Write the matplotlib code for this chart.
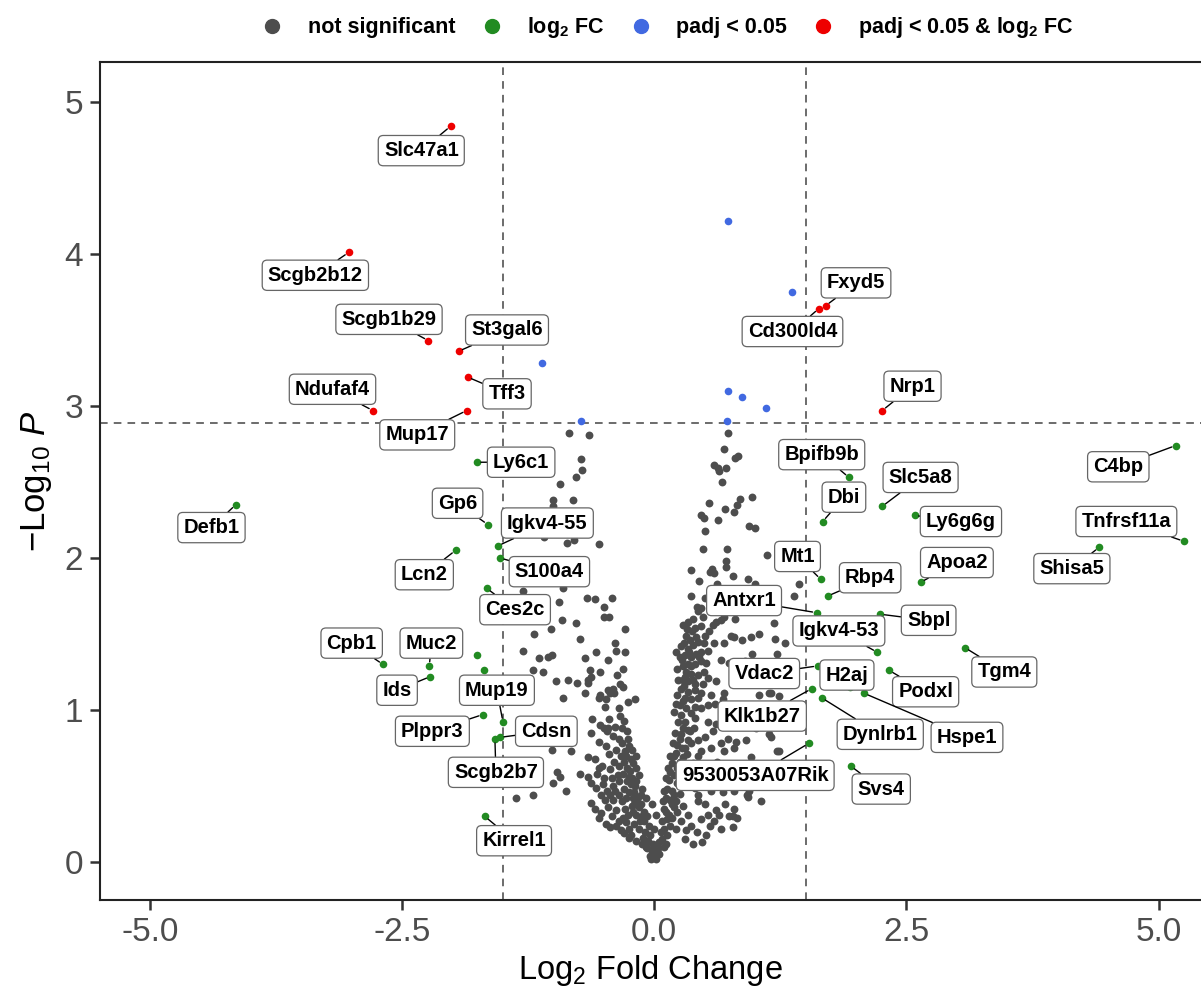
import matplotlib
matplotlib.use("Agg")
import matplotlib.pyplot as plt
from matplotlib.lines import Line2D

plt.rcParams["font.family"] = ["Liberation Sans", "DejaVu Sans"]
plt.rcParams["mathtext.fontset"] = "custom"
plt.rcParams["mathtext.rm"] = "Liberation Sans"
plt.rcParams["mathtext.it"] = "Liberation Sans:italic"
plt.rcParams["mathtext.bf"] = "Liberation Sans:bold"

# -------------------------
# data
# -------------------------

# not significant genes: log2FC, -log10 P
ns_x = [
    # left arm
    -0.85, -0.65, -0.73, -0.72, -0.78, -0.93, -1.00, -1.00, -0.81, -0.87, -0.80, -0.55, -1.09,
    -1.30, -0.90, -0.67, -0.59, -0.42, -0.94, -0.50, -0.50, -0.45, -0.91, -0.78, -1.02, -0.29,
    -1.19, -0.74, -0.39, -1.30, -0.38, -0.29, -0.58, -1.14, -1.05, -1.01, -0.69, -0.46, -0.31,
    -1.20, -1.10, -0.64, -0.54, -0.63, -0.66, -0.66, -0.37, -0.97, -0.86, -0.77, -0.46, -0.41,
    -0.34, -0.31, -0.44, -0.54, -0.55, -0.90, -0.26, -0.19, -0.49, -0.35, -0.45, -0.34, -0.62,
    -0.69, -0.48, -0.40, -0.30, -0.54, -0.46, -0.63,
    -1.01, -0.83, -0.50, -0.47, -0.41, -0.35, -0.26, -0.25, -0.29, -0.23, -0.45, -0.66, -0.59,
    -0.21, -0.18, -0.15, -0.35, -0.44, -0.55, -0.74, -0.66, -0.57, -0.96, -0.93, -1.00, -0.88,
    -1.20, -1.37, -0.63, -0.58, -0.51, -0.47, -0.41, -0.35, -0.30, -0.23, -0.20, -0.16, -0.53,
    -0.49, -0.41, -0.35, -0.63, -0.59, -0.46, -0.38, -0.29, -0.26, -0.21, -0.15, -0.10, -0.48,
    -0.38, -0.33, -0.25, -0.20, -0.15, -0.10, -0.05, -0.25, -0.18, -0.12, -0.07, -0.02, 0.02,
    -0.03, -0.08, 0.00, 0.02, -0.02, -0.08, -0.13, -0.21, -0.20, -0.12, -0.18, -0.25, -0.31,
    -0.32, -0.28, -0.27, -0.24, -0.22, -0.27, -0.19, -0.25, -0.17, -0.22, -0.13, -0.18, -0.12,
    -0.07, -0.14, -0.09, -0.04, -0.11, -0.06, -0.01, -0.04, 0.00, -0.30, -0.33, -0.38, -0.40,
    -0.36, -0.42, -0.39, -0.44, -0.32, -0.28, -0.31, -0.28, -0.23, -0.30, -0.35, -0.42, -0.53,
    -0.55, -0.44, -0.52, -0.50, -0.48, -0.55, -0.39, -0.32, -0.27, -0.22, -0.18,
    # right arm
    0.73, 0.69, 0.80, 0.83, 0.59, 0.63, 0.71, 0.64, 0.67, 0.85, 0.82, 0.79, 0.97, 0.54, 0.70,
    0.46, 0.49, 0.63, 0.50, 0.94, 1.00, 0.48, 0.72, 1.12, 0.71, 0.71, 0.57, 0.36,
    0.55, 0.59, 0.78, 0.93, 1.00, 1.43, 1.39,
    0.42, 0.46, 0.43, 0.48, 0.33, 0.32, 0.40, 0.46, 0.58, 0.61, 0.66, 0.69, 0.76, 0.79, 0.87,
    0.96, 0.69, 0.59, 0.50, 0.54, 1.04, 0.97,
    0.26, 0.33, 0.38, 0.43, 0.30, 0.36, 0.25, 0.41, 0.46, 0.53, 0.33, 0.40, 0.46, 0.51, 0.31,
    0.36, 0.43, 0.28, 0.33, 0.40, 0.26, 0.33, 0.40, 0.46, 0.30, 0.36, 0.43, 0.25, 0.31, 0.20,
    0.26, 0.36, 0.46, 0.53,
    0.61, 0.69, 0.68, 0.66, 0.74,
    1.19, 1.20, 1.22, 1.30, 1.16, 1.04, 1.14, 1.24, 1.14, 1.22,
    0.30, 0.33, 0.26, 0.33, 0.23, 0.30, 0.20, 0.28, 0.18, 0.16, 0.15, 0.13, 0.20, 0.12, 0.18,
    0.10, 0.23, 0.15, 0.08, 0.16, 0.26, 0.07, 0.13, 0.05, 0.10, 0.03, 0.02, 0.36, 0.31, 0.38,
    0.50, 0.53, 0.61, 0.59, 0.51, 0.78, 0.78, 0.79, 0.64, 0.43, 0.43, 0.40, 0.56, 0.68, 0.79,
    0.92, 1.06, 0.94,
    0.43, 0.50, 0.58, 0.66, 0.73, 0.81, 0.91, 0.79, 0.69, 0.56, 0.46, 0.43, 0.96, 1.16, 1.24,
    0.53, 0.61, 0.40, 0.86, 1.01, 0.38, 0.31,
    0.93, 0.82, 0.74,
    0.05, 0.08, 0.12, 0.04, 0.10, 0.13, 0.18, 0.20, 0.12, 0.16, 0.22, 0.09, 0.18, 0.23, 0.10,
    0.20, 0.12, 0.23, 0.14, 0.25, 0.16, 0.22, 0.27, 0.19, 0.25, 0.21, 0.28, 0.24, 0.35, 0.32,
    0.26, 0.30, 0.25, 0.28, 0.33, 0.30, 0.22, 0.46, 0.42, 0.47, 0.55, 0.66, 0.70, 0.48, 0.37,
    0.55, 0.62, 0.36, 0.39,
    0.22, 0.28, 0.23, 0.29, 0.24, 0.30, 0.23, 0.28, 0.36, 0.27, 0.22, 0.29, 0.35, 0.31, 0.37,
    0.28, 0.38, 0.41, 0.49, 0.44, 0.49, 0.40, 0.48, 0.53, 0.56, 0.60, 0.38, 0.34,
    0.36, 0.50, 0.62, 0.44, 0.62,
    0.80, 0.90, 0.84, 0.98, 0.86, 0.95, 1.08, 0.78, 0.88, 1.04, 0.70, 1.10, 0.60, 0.82,
]
ns_y = [
    # left arm
    2.82, 2.81, 2.65, 2.58, 2.53, 2.49, 2.38, 2.34, 2.38, 2.10, 2.12, 2.09, 2.14,
    1.78, 1.80, 1.74, 1.73, 1.74, 1.71, 1.68, 1.61, 1.61, 1.59, 1.57, 1.53, 1.53,
    1.50, 1.47, 1.44, 1.39, 1.39, 1.38, 1.38, 1.34, 1.35, 1.36, 1.34, 1.33, 1.27,
    1.26, 1.25, 1.26, 1.25, 1.22, 1.20, 1.18, 1.23, 1.19, 1.20, 1.18, 1.13, 1.14,
    1.17, 1.15, 1.11, 1.10, 1.08, 1.08, 1.05, 1.07, 1.02, 1.01, 0.94, 0.96, 0.94,
    1.11, 1.07, 1.11, 0.93, 0.90, 0.88, 0.85,
    0.74, 0.73, 0.88, 0.86, 0.83, 0.81, 0.81, 0.76, 0.73, 0.68, 0.71, 0.69, 0.68,
    0.65, 0.62, 0.57, 0.63, 0.61, 0.62, 0.58, 0.56, 0.58, 0.59, 0.56, 0.52, 0.47,
    0.44, 0.42, 0.52, 0.49, 0.51, 0.47, 0.50, 0.53, 0.48, 0.51, 0.46, 0.43, 0.44,
    0.41, 0.41, 0.44, 0.39, 0.35, 0.36, 0.34, 0.35, 0.31, 0.33, 0.36, 0.33, 0.25,
    0.24, 0.21, 0.22, 0.25, 0.22, 0.27, 0.24, 0.16, 0.14, 0.12, 0.09, 0.07, 0.05,
    0.02, 0.10, 0.22, 0.31, 0.38, 0.42, 0.44, 0.42, 0.38, 0.48, 0.53, 0.56, 0.58,
    0.78, 0.70, 0.62, 0.60, 0.55, 0.53, 0.50, 0.46, 0.40, 0.37, 0.38, 0.31, 0.30,
    0.30, 0.27, 0.20, 0.18, 0.16, 0.14, 0.12, 0.04, 0.09, 0.66, 0.70, 0.74, 0.66,
    0.57, 0.55, 0.47, 0.44, 0.40, 0.42, 0.29, 0.26, 0.18, 0.19, 0.27, 0.30, 0.32,
    0.29, 0.23, 0.63, 0.55, 0.76, 0.79, 0.89, 0.88, 0.86, 0.74, 0.70,
    # right arm
    2.82, 2.72, 2.66, 2.67, 2.61, 2.59, 2.59, 2.57, 2.50, 2.39, 2.35, 2.30, 2.40, 2.36, 2.32,
    2.28, 2.26, 2.25, 2.18, 2.21, 2.20, 2.06, 2.06, 2.02, 1.98, 1.94, 1.93, 1.92,
    1.91, 1.90, 1.88, 1.86, 1.83, 1.83, 1.75,
    1.68, 1.67, 1.65, 1.61, 1.58, 1.53, 1.54, 1.55, 1.56, 1.58, 1.59, 1.61, 1.49, 1.48, 1.46,
    1.48, 1.44, 1.44, 1.49, 1.52, 1.50, 1.37,
    1.42, 1.40, 1.43, 1.45, 1.36, 1.35, 1.35, 1.37, 1.38, 1.39, 1.30, 1.30, 1.32, 1.31, 1.25,
    1.24, 1.23, 1.20, 1.19, 1.17, 1.14, 1.12, 1.13, 1.11, 1.08, 1.07, 1.08, 1.03, 1.01, 0.99,
    0.97, 0.98, 1.01, 1.03,
    1.19, 1.11, 1.07, 1.33, 1.31,
    1.57, 1.47, 1.37, 1.44, 1.11, 1.10, 1.11, 1.09, 0.84, 0.73,
    0.92, 0.87, 0.84, 0.80, 0.77, 0.75, 0.70, 0.69, 0.65, 0.59, 0.54, 0.48, 0.44, 0.42, 0.38,
    0.35, 0.33, 0.31, 0.27, 0.24, 0.27, 0.20, 0.18, 0.13, 0.10, 0.07, 0.02, 0.24, 0.21, 0.12,
    0.38, 0.31, 0.34, 0.27, 0.18, 0.30, 0.23, 0.35, 0.31, 0.44, 0.40, 0.49, 0.47, 0.46, 0.47,
    0.44, 0.40, 0.47,
    0.80, 0.82, 0.86, 0.78, 0.81, 0.79, 0.80, 0.75, 0.73, 0.75, 0.73, 0.70, 0.69, 0.82, 0.73,
    0.92, 0.91, 0.95, 0.92, 0.88, 0.65, 0.63,
    0.43, 0.29, 0.30,
    0.05, 0.15, 0.12, 0.09, 0.22, 0.28, 0.29, 0.36, 0.33, 0.41, 0.40, 0.40, 0.47, 0.52, 0.47,
    0.57, 0.55, 0.62, 0.62, 0.66, 0.70, 0.72, 0.75, 0.78, 0.81, 0.85, 0.88, 0.92, 0.86, 0.71,
    0.58, 0.50, 0.45, 0.37, 0.31, 0.15, 0.22, 0.28, 0.20, 0.13, 0.24, 0.22, 0.38, 0.56, 0.55,
    0.62, 0.66, 0.78, 0.88,
    1.04, 1.06, 1.10, 1.16, 1.20, 1.22, 1.27, 1.29, 1.29, 1.33, 1.38, 1.44, 1.46, 1.49, 1.52,
    1.56, 1.60, 1.48, 1.44, 1.35, 1.25, 1.02, 1.17, 1.21, 1.10, 1.04, 1.20, 1.38,
    1.75, 1.74, 1.83, 1.85, 1.66,
    1.60, 1.32, 1.20, 1.22, 1.03, 0.98, 0.96, 0.98, 0.64, 0.60, 0.58, 0.52, 0.54, 0.53,
]

# padj < 0.05 only (unlabelled)
padj_x = [0.73, 1.37, -1.11, 0.73, 0.87, 1.11, -0.73, 0.72]
padj_y = [4.22, 3.75, 3.28, 3.10, 3.06, 2.99, 2.90, 2.90]

# padj < 0.05 & log2 FC (labelled)
both_genes = ["Slc47a1", "Scgb2b12", "Scgb1b29", "St3gal6", "Tff3", "Ndufaf4", "Mup17",
              "Fxyd5", "Cd300ld4", "Nrp1"]
both_x = [-2.02, -3.03, -2.24, -1.94, -1.85, -2.79, -1.86, 1.70, 1.63, 2.26]
both_y = [4.84, 4.01, 3.43, 3.36, 3.19, 2.97, 2.97, 3.66, 3.64, 2.97]

# log2 FC only
fc_genes = ["Defb1", "C4bp", "Tnfrsf11a", "Shisa5", "Bpifb9b", "Slc5a8", "Dbi", "Ly6g6g",
            "Mt1", "Rbp4", "Apoa2", "Antxr1", "Sbpl", "Igkv4-53", "Tgm4", "Vdac2", "H2aj",
            "Podxl", "Hspe1", "Klk1b27", "Dynlrb1", "9530053A07Rik", "Svs4",
            "Ly6c1", "Gp6", "Igkv4-55", "S100a4", "Lcn2", "Ces2c", "Cpb1", "Muc2", "Ids",
            "Mup19", "Plppr3", "Cdsn", "Scgb2b7", "Kirrel1", "", ""]
fc_x = [-4.15, 5.17, 5.25, 4.41, 1.93, 2.26, 1.67, 2.58,
        1.65, 1.72, 2.64, 1.61, 2.24, 2.21, 3.08, 1.62, 1.94,
        2.33, 2.08, 1.56, 1.66, 1.53, 1.95,
        -1.76, -1.65, -1.55, -1.53, -1.97, -1.66, -2.69, -2.23, -2.22,
        -1.50, -1.70, -1.53, -1.58, -1.68, -1.76, -1.69]
fc_y = [2.35, 2.74, 2.11, 2.07, 2.53, 2.34, 2.24, 2.28,
        1.86, 1.75, 1.84, 1.64, 1.63, 1.38, 1.41, 1.29, 1.15,
        1.26, 1.11, 1.14, 1.08, 0.78, 0.63,
        2.63, 2.22, 2.08, 2.00, 2.05, 1.80, 1.30, 1.29, 1.22,
        0.92, 0.97, 0.82, 0.81, 0.30, 1.36, 1.26]

# label box positions (layout, data coords)
label_pos = {
    "Slc47a1": (-2.31, 4.68), "Scgb2b12": (-3.36, 3.86), "Scgb1b29": (-2.63, 3.57),
    "St3gal6": (-1.46, 3.50), "Tff3": (-1.46, 3.08), "Ndufaf4": (-3.19, 3.11),
    "Mup17": (-2.35, 2.81), "Fxyd5": (2.00, 3.81), "Cd300ld4": (1.37, 3.49),
    "Nrp1": (2.56, 3.13), "Defb1": (-4.39, 2.20), "C4bp": (4.60, 2.60),
    "Tnfrsf11a": (4.68, 2.24), "Shisa5": (4.14, 1.93), "Bpifb9b": (1.66, 2.68),
    "Slc5a8": (2.64, 2.53), "Dbi": (1.88, 2.40), "Ly6g6g": (3.04, 2.24),
    "Mt1": (1.42, 2.01), "Rbp4": (2.14, 1.87), "Apoa2": (3.00, 1.97),
    "Antxr1": (0.89, 1.72), "Sbpl": (2.72, 1.59), "Igkv4-53": (1.83, 1.52),
    "Tgm4": (3.47, 1.25), "Vdac2": (1.09, 1.24), "H2aj": (1.91, 1.23),
    "Podxl": (2.69, 1.12), "Hspe1": (3.10, 0.82), "Klk1b27": (1.07, 0.96),
    "Dynlrb1": (2.24, 0.84), "9530053A07Rik": (1.00, 0.57), "Svs4": (2.25, 0.48),
    "Ly6c1": (-1.32, 2.63), "Gp6": (-1.95, 2.36), "Igkv4-55": (-1.06, 2.23),
    "S100a4": (-1.04, 1.91), "Lcn2": (-2.28, 1.89), "Ces2c": (-1.38, 1.66),
    "Cpb1": (-3.00, 1.44), "Muc2": (-2.21, 1.44), "Ids": (-2.55, 1.13),
    "Mup19": (-1.56, 1.13), "Plppr3": (-2.20, 0.86), "Cdsn": (-1.07, 0.86),
    "Scgb2b7": (-1.57, 0.59), "Kirrel1": (-1.39, 0.14),
}

FC_CUT = 1.5
P_CUT = 2.89

C_NS = "#4d4d4d"
C_FC = "#228b22"
C_P = "#4169e1"
C_BOTH = "#ee0000"

# -------------------------
# plot
# -------------------------

fig = plt.figure(figsize=(12.01, 9.92), dpi=100)
ax = fig.add_axes([100 / 1201, 92 / 992, 1101 / 1201, 838 / 992])

ax.scatter(ns_x, ns_y, s=32, color=C_NS, linewidths=0, zorder=2)
ax.scatter(fc_x, fc_y, s=30, color=C_FC, linewidths=0, zorder=2)
ax.scatter(padj_x, padj_y, s=30, color=C_P, linewidths=0, zorder=2)
ax.scatter(both_x, both_y, s=30, color=C_BOTH, linewidths=0, zorder=2)

ax.axvline(-FC_CUT, color="#444444", lw=1.1, ls=(0, (5, 4)), zorder=1)
ax.axvline(FC_CUT, color="#444444", lw=1.1, ls=(0, (5, 4)), zorder=1)
ax.axhline(P_CUT, color="#444444", lw=1.1, ls=(0, (5, 4)), zorder=1)

for genes, xs, ys in [(both_genes, both_x, both_y), (fc_genes, fc_x, fc_y)]:
    for g, x, y in zip(genes, xs, ys):
        if g not in label_pos:
            continue
        ax.annotate(
            g, xy=(x, y), xytext=label_pos[g],
            ha="center", va="center", fontsize=14.5, fontweight="bold", zorder=4,
            bbox=dict(boxstyle="round,pad=0.28,rounding_size=0.25", fc="white",
                      ec="#666666", lw=0.9),
            arrowprops=dict(arrowstyle="-", color="black", lw=1.0,
                            shrinkA=0, shrinkB=3),
        )

ax.set_xlim(-5.495, 5.42)
ax.set_ylim(-0.25, 5.263)
ax.set_xticks([-5.0, -2.5, 0.0, 2.5, 5.0])
ax.set_xticklabels(["-5.0", "-2.5", "0.0", "2.5", "5.0"])
ax.set_yticks([0, 1, 2, 3, 4, 5])

ax.tick_params(axis="both", labelsize=24, labelcolor="#4d4d4d", color="#333333",
               length=7, width=1.8, pad=5)
for side in ["left", "bottom", "top"]:
    ax.spines[side].set_linewidth(1.5)
    ax.spines[side].set_color("#222222")
ax.spines["right"].set_visible(False)

ax.set_xlabel(r"$\mathrm{Log}_{2}$ Fold Change", fontsize=23.5, labelpad=4)
ax.set_ylabel(r"$-\mathrm{Log}_{10}\ \mathit{P}$", fontsize=25, labelpad=8)

handles = [
    Line2D([], [], ls="", marker="o", ms=10, color=C_NS),
    Line2D([], [], ls="", marker="o", ms=10, color=C_FC),
    Line2D([], [], ls="", marker="o", ms=10, color=C_P),
    Line2D([], [], ls="", marker="o", ms=10, color=C_BOTH),
]
labels = ["not significant", r"$\mathbf{log_2}$ FC", "padj < 0.05",
          r"padj < 0.05 & $\mathbf{log_2}$ FC"]
fig.legend(handles, labels, loc="center", bbox_to_anchor=(0.556, 0.972), ncol=4,
           frameon=False, prop=dict(weight="bold", size=15.5), handlelength=1.0,
           handletextpad=1.13, columnspacing=1.2)

plt.savefig("out.png", dpi=100)
